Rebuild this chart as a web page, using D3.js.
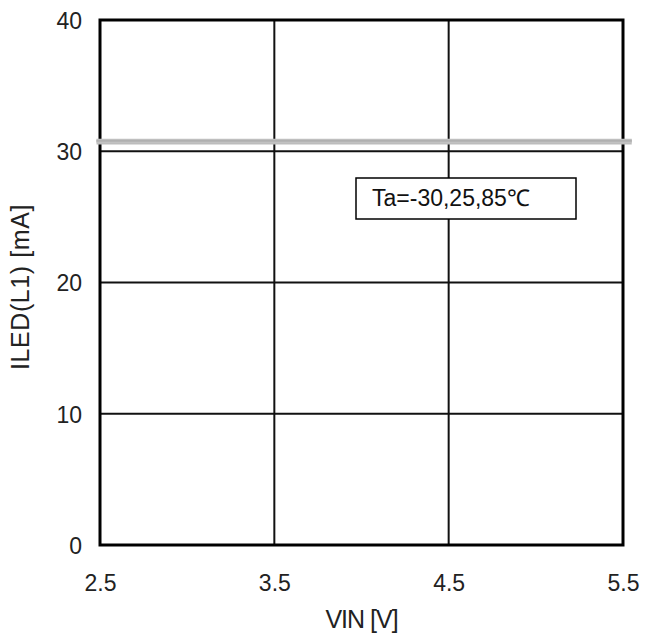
<!DOCTYPE html>
<html>
<head>
<meta charset="utf-8">
<script src="https://cdn.jsdelivr.net/npm/d3@7/dist/d3.min.js"></script>
<style>
  html, body { margin: 0; padding: 0; background: #fff; }
  svg { display: block; }
  text { font-family: "Liberation Sans", Arial, sans-serif; fill: #222; }
</style>
</head>
<body>
<svg id="chart" width="646" height="640"></svg>
<script>
// LED current vs. supply voltage at three ambient temperatures
const vin = [2.48, 3.0, 3.5, 4.0, 4.5, 5.0, 5.55];
const iledTaM30 = [30.8, 30.8, 30.8, 30.8, 30.8, 30.8, 30.8];
const iledTa25  = [30.8, 30.8, 30.8, 30.8, 30.8, 30.8, 30.8];
const iledTa85  = [30.7, 30.7, 30.7, 30.7, 30.7, 30.7, 30.7];
const xTicks = [2.5, 3.5, 4.5, 5.5];
const yTicks = [0, 10, 20, 30, 40];
const legendText = "Ta=-30,25,85\u2103";

const svg = d3.select("#chart");
const x = d3.scaleLinear().domain([2.5, 5.5]).range([100, 623]);
const y = d3.scaleLinear().domain([0, 40]).range([545, 20]);

// grid
const grid = svg.append("g");
grid.selectAll("line.vg").data(xTicks.slice(1, -1)).enter().append("line")
  .attr("x1", d => x(d)).attr("x2", d => x(d))
  .attr("y1", y(0)).attr("y2", y(40))
  .attr("stroke", "#111").attr("stroke-width", 2);
grid.selectAll("line.hg").data(yTicks.slice(1, -1)).enter().append("line")
  .attr("x1", x(2.5)).attr("x2", x(5.5))
  .attr("y1", d => y(d)).attr("y2", d => y(d))
  .attr("stroke", "#111").attr("stroke-width", 2);

// axes (labels only, frame drawn separately)
const xAxis = d3.axisBottom(x).tickValues(xTicks).tickSize(0).tickPadding(0).tickFormat(d3.format(".1f"));
const gx = svg.append("g").attr("transform", `translate(0, ${y(0)})`).call(xAxis);
gx.select(".domain").remove();
gx.selectAll("text").attr("dy", null).attr("y", 46)
  .style("font-size", "23px").style("fill", "#222")
  .style("font-family", "'Liberation Sans', Arial, sans-serif");

const yAxis = d3.axisLeft(y).tickValues(yTicks).tickSize(0).tickPadding(0).tickFormat(d3.format("d"));
const gy = svg.append("g").attr("transform", `translate(${x(2.5) - 18}, 0)`).call(yAxis);
gy.select(".domain").remove();
gy.selectAll("text").attr("dy", "0.36em")
  .style("font-size", "23px").style("fill", "#222")
  .style("font-family", "'Liberation Sans', Arial, sans-serif");

// frame
svg.append("rect")
  .attr("x", x(2.5)).attr("y", y(40))
  .attr("width", x(5.5) - x(2.5)).attr("height", y(0) - y(40))
  .attr("fill", "none").attr("stroke", "#000").attr("stroke-width", 3);

// data lines
const line = d3.line().x((d, i) => x(vin[i])).y(d => y(d));
const series = [
  { v: iledTa85, c: "#bdbdbd", w: 5 },
  { v: iledTa25, c: "#c4c4c4", w: 4 },
  { v: iledTaM30, c: "#b0b0b0", w: 2 }
];
svg.append("g").selectAll("path").data(series).enter().append("path")
  .attr("d", d => line(d.v))
  .attr("fill", "none").attr("stroke", d => d.c).attr("stroke-width", d => d.w);

// legend box
const lg = svg.append("g");
lg.append("rect").attr("x", 356).attr("y", 178).attr("width", 220).attr("height", 41)
  .attr("fill", "#fff").attr("stroke", "#000").attr("stroke-width", 1.5);
lg.append("text").attr("x", 372).attr("y", 206).style("font-size", "23px").style("fill", "#111")
  .text(legendText);

// axis titles
svg.append("text").attr("x", x(4.0)).attr("y", 628).attr("text-anchor", "middle")
  .style("font-size", "25px").style("letter-spacing", "-1px").text("VIN [V]");
svg.append("text").attr("transform", "translate(29, 287) rotate(-90)").attr("text-anchor", "middle")
  .style("font-size", "25px").style("letter-spacing", "0.6px").text("ILED(L1) [mA]");
</script>
</body>
</html>
